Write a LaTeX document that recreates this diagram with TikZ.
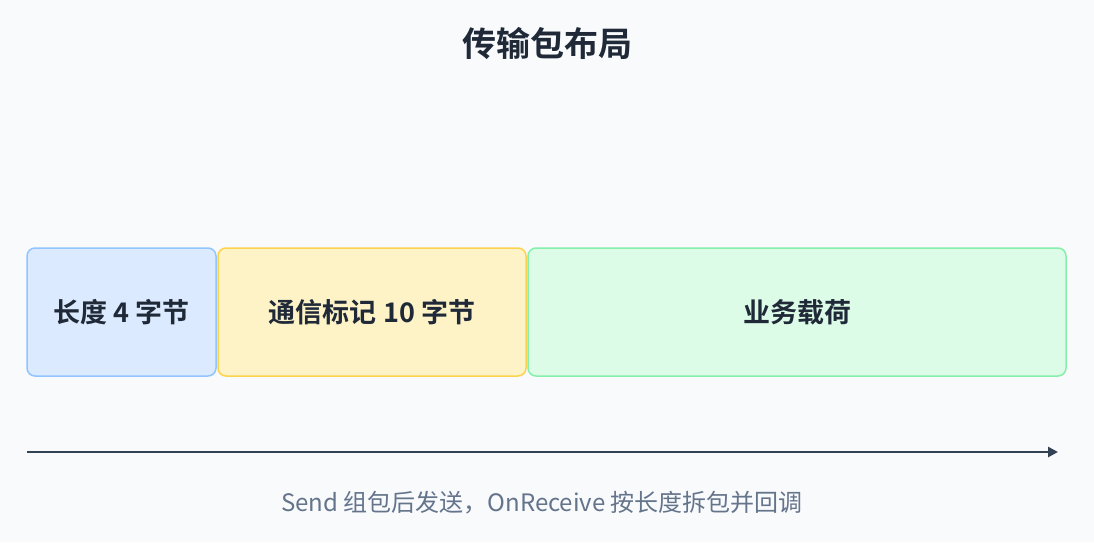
\documentclass[tikz,border=0pt]{standalone}
\usepackage{fontspec}
\setmainfont{Noto Sans CJK SC}
\newfontfamily\cjkbold{Noto Sans CJK SC Bold}
\usetikzlibrary{arrows.meta}
\definecolor{pagebg}{HTML}{F8FAFC}
\definecolor{inkdark}{HTML}{1F2937}
\definecolor{inkgray}{HTML}{64748B}
\definecolor{axisline}{HTML}{334155}
\definecolor{lenfill}{HTML}{DBEAFE}
\definecolor{lenline}{HTML}{93C5FD}
\definecolor{tagfill}{HTML}{FEF3C7}
\definecolor{tagline}{HTML}{FCD34D}
\definecolor{payfill}{HTML}{DCFCE7}
\definecolor{payline}{HTML}{86EFAC}
\begin{document}
\begin{tikzpicture}[x=1pt, y=-1pt,
  field/.style={rounded corners=8pt, line width=1.5pt, inner sep=0pt,
    minimum height=128pt, text=inkdark, font=\cjkbold\fontsize{27}{32}\selectfont}]

  % Page
  \fill[pagebg] (0, 0) rectangle (1094, 542);
  \useasboundingbox (0, 0) rectangle (1094, 542);

  \node[text=inkdark, font=\cjkbold\fontsize{34}{40}\selectfont] (title) at (547, 43) {传输包布局};

  % Packet fields
  \node[field, draw=lenline, fill=lenfill, minimum width=189pt] (len) at (121.5, 312) {长度 4 字节};
  \node[field, draw=tagline, fill=tagfill, minimum width=308pt] (tag) at (372, 312) {通信标记 10 字节};
  \node[field, draw=payline, fill=payfill, minimum width=538pt] (payload) at (797, 312) {业务载荷};

  % Flow direction
  \coordinate (flowstart) at (27, 452);
  \coordinate (flowend) at (1058, 452);
  \draw[axisline, line width=2.5pt, -{Triangle[length=10pt, width=10pt]}] (flowstart) -- (flowend);

  \node[text=inkgray, font=\fontsize{24}{29}\selectfont] (caption) at (542, 503) {Send 组包后发送，OnReceive 按长度拆包并回调};

\end{tikzpicture}
\end{document}
